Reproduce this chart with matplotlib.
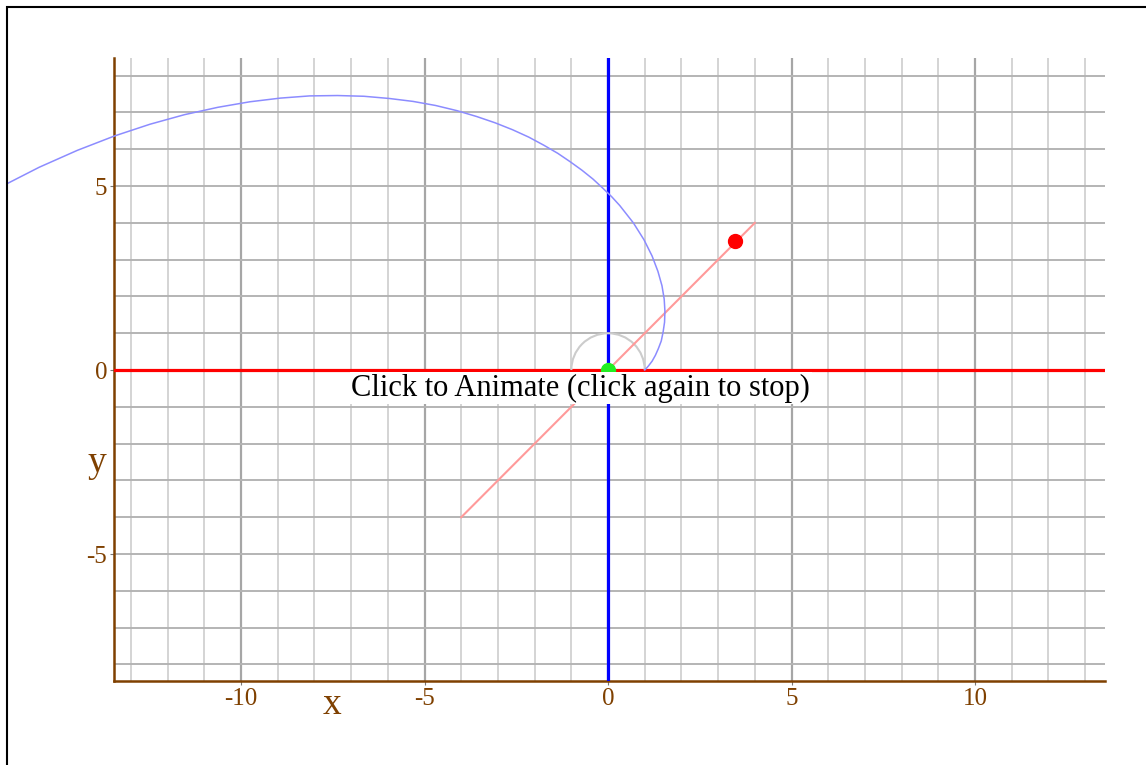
import matplotlib
matplotlib.use('Agg')
import matplotlib.pyplot as plt
from matplotlib.patches import Arc, Rectangle

# spiral (starts at (1, 0) and runs off the left edge)
spiral_x = [1.00, 1.10, 1.20, 1.29, 1.37, 1.45, 1.50, 1.54, 1.55, 1.53, 1.47,
            1.36, 1.20, 0.98, 0.69, 0.32, 0.10, -0.15, -0.41, -0.71, -1.03,
            -1.37, -1.75, -2.16, -2.60, -3.08, -3.58, -4.12, -4.70, -5.31,
            -5.96, -6.65, -7.37, -8.13, -8.93, -9.76, -10.63, -11.54, -12.48,
            -13.45, -14.46, -15.50, -16.56, -17.65, -18.76, -19.89]
spiral_y = [0.00, 0.11, 0.24, 0.40, 0.58, 0.79, 1.03, 1.30, 1.60, 1.93, 2.29,
            2.68, 3.10, 3.54, 4.00, 4.47, 4.71, 4.95, 5.19, 5.43, 5.66,
            5.89, 6.11, 6.33, 6.53, 6.72, 6.89, 7.05, 7.19, 7.30,
            7.38, 7.44, 7.46, 7.45, 7.39, 7.29, 7.14, 6.94, 6.68,
            6.36, 5.97, 5.51, 4.97, 4.35, 3.64, 2.84]

diag_x = [-4, 4]
diag_y = [-4, 4]
red_pt = (3.46, 3.5)
green_pt = (0, 0)

xticks = [-10, -5, 0, 5, 10]
yticks = [-5, 0, 5]
xtick_labels = ['-10', '-5', '0', '5', '10']
ytick_labels = ['-5', '0', '5']

brown = '#7f4000'
serif = ['Liberation Serif', 'DejaVu Serif']

fig = plt.figure(figsize=(11.46, 7.65), dpi=100)
ax = fig.add_axes([114/1146, 1-681/765, (1105-114)/1146, (681-58)/765])
ax.set_xlim(-13.46, 13.54)
ax.set_ylim(-8.45, 8.48)

ax.set_xticks(xticks)
ax.set_xticklabels(xtick_labels)
ax.set_yticks(yticks)
ax.set_yticklabels(ytick_labels)
ax.set_xticks(range(-13, 14), minor=True)
ax.set_yticks(range(-8, 9), minor=True)
ax.xaxis.grid(True, which='minor', color='#d4d4d4', lw=1.4)
ax.xaxis.grid(True, which='major', color='#a6a6a6', lw=1.6)
ax.yaxis.grid(True, which='both', color='#b4b4b4', lw=1.4)
ax.set_axisbelow(True)
ax.tick_params(which='minor', length=0)
ax.tick_params(which='major', length=3, color='#777777', labelsize=18,
               labelcolor=brown, pad=2)
for lab in ax.get_xticklabels() + ax.get_yticklabels():
    lab.set_family(serif)

for s in ['top', 'right']:
    ax.spines[s].set_visible(False)
for s in ['left', 'bottom']:
    ax.spines[s].set_color(brown)
    ax.spines[s].set_linewidth(1.8)

ax.axvline(0, color='blue', lw=2.3, zorder=3)
ax.axhline(0, color='red', lw=2.3, zorder=3)

ax.add_patch(Arc((0, 0), 2, 2, theta1=0, theta2=180, color='#cccccc', lw=1.5, zorder=4))
ax.plot(diag_x, diag_y, color='#ff9a9a', lw=1.5, zorder=4)
spiral, = ax.plot(spiral_x, spiral_y, color='#8c8cff', lw=1.1, zorder=4)
# spiral leaves the axes on the left, but stops at the outer frame
spiral.set_clip_path(Rectangle((8/1146, 0), 1, 1, transform=fig.transFigure))
ax.plot(*red_pt, 'o', color='red', ms=10, zorder=5)
ax.plot(*green_pt, 'o', color='#22ee22', ms=10, zorder=5)

ax.text(-0.74, -0.49, 'Click to Animate (click again to stop)', ha='center', va='center',
        fontsize=22, family=serif, color='black', zorder=6,
        bbox=dict(facecolor='white', edgecolor='none', pad=1.0))

fig.text(332/1146, 1-705/765, 'x', ha='center', va='center', fontsize=27,
         family=serif, color=brown)
fig.text(97/1146, 1-463/765, 'y', ha='center', va='center', fontsize=27,
         family=serif, color=brown)

# frame (only top and left edges fall inside the image)
fig.patches.append(Rectangle((7/1146, -0.1), 2, 1.1-7/765, transform=fig.transFigure,
                             fill=False, edgecolor='black', lw=1.5))

fig.savefig('out.png', dpi=100)
